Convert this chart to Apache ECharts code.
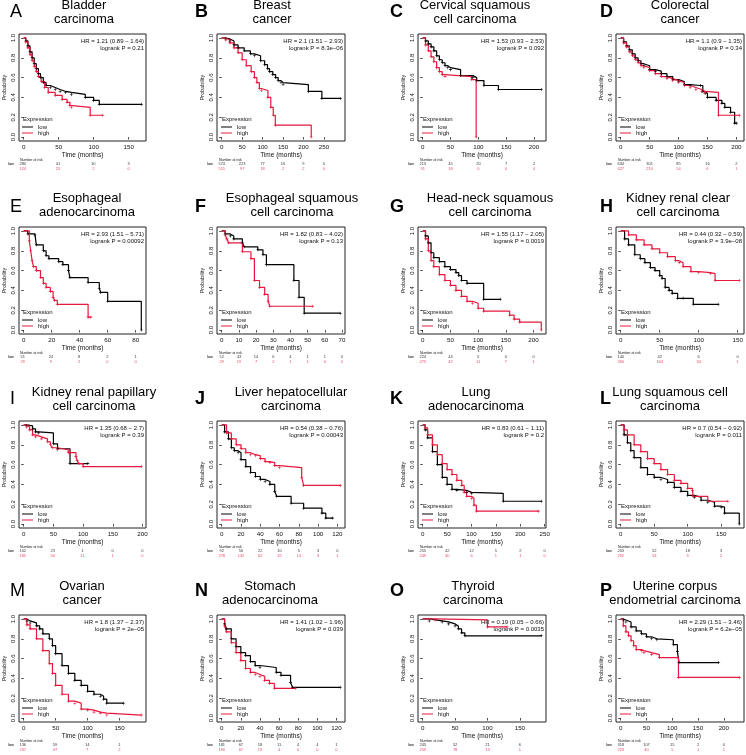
<!DOCTYPE html>
<html>
<head>
<meta charset="utf-8">
<script src="https://cdn.jsdelivr.net/npm/echarts@6.0.0/dist/echarts.min.js"></script>
<style>
html,body{margin:0;padding:0;background:#fff}
#chart{width:746px;height:755px}
</style>
</head>
<body>
<div id="chart"></div>
<script>
// 生存曲线数据 [时间(月), 生存概率]，每组 low / high
var A_low = [[0,1],[3,0.97],[6,0.92],[9,0.86],[12,0.80],[15,0.74],[18,0.69],[21,0.64],[24,0.60],[28,0.55],[32,0.52],[38,0.50],[45,0.48],[52,0.46],[60,0.45],[68,0.43],[88,0.40],[100,0.37],[108,0.33],[168,0.33]];
var A_high = [[0,1],[3,0.96],[6,0.90],[9,0.83],[12,0.77],[15,0.71],[18,0.66],[21,0.61],[25,0.56],[30,0.50],[35,0.45],[45,0.42],[55,0.38],[62,0.35],[66,0.32],[68,0.30],[95,0.22],[113,0.22]];
var B_low = [[0,1],[10,0.99],[20,0.97],[30,0.93],[40,0.90],[55,0.87],[70,0.84],[80,0.82],[95,0.77],[105,0.73],[112,0.69],[117,0.66],[125,0.63],[132,0.60],[138,0.57],[145,0.55],[150,0.53],[212,0.46],[245,0.39],[290,0.39]];
var B_high = [[0,1],[10,0.98],[20,0.95],[30,0.90],[40,0.85],[50,0.78],[60,0.72],[72,0.66],[80,0.60],[86,0.55],[92,0.49],[97,0.47],[113,0.40],[120,0.30],[126,0.22],[131,0.12],[219,0]];
var C_low = [[0,1],[5,0.97],[10,0.94],[15,0.91],[20,0.87],[25,0.82],[30,0.78],[35,0.75],[40,0.72],[45,0.70],[50,0.68],[68,0.62],[90,0.60],[97,0.57],[110,0.52],[136,0.48],[213,0.48]];
var C_high = [[0,1],[5,0.93],[10,0.87],[15,0.81],[20,0.76],[25,0.70],[30,0.66],[35,0.63],[40,0.61],[88,0.58],[96,0]];
var D_low = [[0,1],[5,0.96],[10,0.92],[15,0.88],[20,0.84],[25,0.80],[30,0.77],[35,0.74],[40,0.72],[50,0.68],[60,0.665],[70,0.64],[80,0.61],[90,0.58],[100,0.56],[110,0.53],[120,0.52],[138,0.52],[142,0.46],[146,0.44],[150,0.40],[165,0.37],[175,0.34],[180,0.30],[190,0.25],[197,0.14],[200,0.14]];
var D_high = [[0,1],[5,0.95],[10,0.91],[15,0.86],[20,0.82],[25,0.78],[30,0.75],[35,0.72],[40,0.70],[50,0.67],[60,0.64],[70,0.61],[80,0.59],[90,0.57],[100,0.55],[110,0.52],[120,0.50],[130,0.48],[140,0.46],[145,0.45],[169,0.22],[205,0.22]];
var E_low = [[0,1],[3,0.97],[8,0.96],[9,0.86],[14,0.80],[16,0.75],[18,0.72],[25,0.69],[28,0.66],[32,0.60],[33,0.53],[46,0.48],[54,0.42],[55,0.38],[60,0.29],[84,0]];
var E_high = [[0,1],[4,0.90],[5,0.80],[6,0.70],[7,0.64],[9,0.60],[12,0.53],[14,0.47],[16,0.43],[19,0.39],[21,0.33],[22,0.30],[24,0.26],[46,0.13],[48,0.13]];
var F_low = [[0,1],[2,0.97],[5,0.95],[7,0.92],[12,0.88],[13,0.84],[21,0.81],[24,0.76],[26,0.66],[42,0.50],[45,0.33],[48,0.17],[69,0.17]];
var F_high = [[0,1],[2,0.96],[3,0.92],[4,0.88],[12,0.79],[17,0.72],[19,0.50],[22,0.43],[25,0.36],[27,0.29],[28,0.24],[53,0.24]];
var G_low = [[0,1],[5,0.95],[10,0.88],[15,0.78],[20,0.73],[30,0.69],[40,0.64],[50,0.61],[60,0.58],[65,0.55],[70,0.50],[80,0.47],[110,0.31],[140,0.31]];
var G_high = [[0,1],[5,0.92],[10,0.80],[15,0.70],[20,0.64],[30,0.56],[40,0.50],[50,0.45],[60,0.40],[70,0.34],[80,0.29],[90,0.27],[100,0.22],[110,0.19],[157,0.15],[165,0.11],[175,0.08],[214,0]];
var H_low = [[0,1],[5,0.92],[10,0.86],[18,0.76],[25,0.72],[31,0.68],[38,0.63],[44,0.60],[50,0.55],[53,0.52],[57,0.43],[62,0.40],[66,0.37],[73,0.32],[80,0.32],[93,0.26],[125,0.26]];
var H_high = [[0,1],[10,0.96],[20,0.91],[30,0.86],[40,0.82],[50,0.78],[60,0.74],[70,0.70],[75,0.68],[80,0.64],[90,0.59],[100,0.58],[115,0.57],[121,0.50],[152,0.50]];
var I_low = [[0,1],[5,0.99],[15,0.96],[20,0.93],[25,0.92],[50,0.81],[57,0.76],[78,0.61],[108,0.61]];
var I_high = [[0,1],[5,0.98],[10,0.95],[15,0.90],[20,0.88],[30,0.86],[40,0.83],[45,0.80],[48,0.77],[57,0.75],[75,0.72],[88,0.68],[90,0.64],[93,0.61],[100,0.58],[198,0.58]];
var J_low = [[0,1],[3,0.93],[7,0.86],[10,0.77],[13,0.74],[17,0.72],[20,0.65],[25,0.58],[30,0.52],[35,0.48],[40,0.45],[45,0.43],[50,0.40],[55,0.33],[57,0.28],[72,0.21],[85,0.16],[104,0.11],[108,0.06],[115,0.06]];
var J_high = [[0,1],[5,0.92],[10,0.86],[15,0.80],[20,0.76],[25,0.72],[30,0.70],[35,0.69],[40,0.66],[45,0.63],[50,0.62],[55,0.59],[60,0.57],[83,0.47],[85,0.39],[123,0.39]];
var K_low = [[0,1],[5,0.95],[10,0.87],[20,0.73],[30,0.60],[40,0.47],[50,0.40],[60,0.35],[70,0.34],[90,0.32],[100,0.31],[165,0.23],[243,0.23]];
var K_high = [[0,1],[5,0.97],[10,0.90],[20,0.80],[30,0.70],[40,0.61],[50,0.55],[60,0.50],[70,0.44],[80,0.39],[85,0.32],[90,0.28],[100,0.26],[105,0.19],[110,0.13],[237,0.13]];
var L_low = [[0,1],[5,0.90],[10,0.82],[15,0.74],[20,0.67],[30,0.57],[40,0.50],[50,0.47],[60,0.45],[70,0.42],[80,0.37],[90,0.33],[100,0.29],[110,0.27],[120,0.24],[130,0.22],[140,0.18],[150,0.17],[155,0.11],[177,0]];
var L_high = [[0,1],[5,0.95],[10,0.90],[20,0.80],[30,0.73],[40,0.66],[50,0.61],[60,0.55],[70,0.50],[80,0.44],[90,0.41],[100,0.36],[107,0.34],[108,0.28],[130,0.23],[160,0.23]];
var M_low = [[0,1],[5,0.98],[10,0.96],[20,0.93],[25,0.90],[30,0.85],[40,0.80],[45,0.73],[50,0.65],[60,0.53],[70,0.45],[80,0.38],[90,0.33],[100,0.27],[110,0.24],[120,0.22],[125,0.19],[130,0.15],[156,0.15]];
var M_high = [[0,1],[5,0.94],[10,0.90],[20,0.80],[30,0.68],[40,0.55],[45,0.45],[50,0.33],[60,0.24],[70,0.17],[80,0.15],[90,0.09],[100,0.08],[110,0.06],[120,0.05],[130,0.03],[184,0.03]];
var N_low = [[0,1],[3,0.95],[5,0.90],[10,0.80],[15,0.72],[20,0.66],[25,0.63],[30,0.57],[35,0.53],[40,0.51],[57,0.46],[62,0.43],[72,0.36],[74,0.31],[124,0.31]];
var N_high = [[0,1],[3,0.93],[5,0.87],[10,0.76],[15,0.66],[20,0.58],[25,0.50],[30,0.46],[35,0.44],[40,0.42],[45,0.38],[50,0.35],[55,0.30],[77,0.30]];
var O_low = [[0,1],[10,0.98],[30,0.97],[40,0.95],[50,0.93],[55,0.90],[60,0.86],[65,0.83],[183,0.83]];
var O_high = [[0,1],[20,0.99],[100,0.92],[130,0.92]];
var P_low = [[0,1],[5,0.99],[10,0.97],[20,0.92],[30,0.88],[40,0.85],[50,0.82],[60,0.80],[70,0.79],[102,0.74],[110,0.67],[113,0.56],[190,0.56]];
var P_high = [[0,1],[5,0.93],[10,0.87],[15,0.83],[20,0.78],[25,0.73],[30,0.69],[40,0.68],[45,0.66],[60,0.64],[75,0.61],[112,0.41],[230,0.41]];

var lowCurves = [A_low,B_low,C_low,D_low,E_low,F_low,G_low,H_low,I_low,J_low,K_low,L_low,M_low,N_low,O_low,P_low];
var highCurves = [A_high,B_high,C_high,D_high,E_high,F_high,G_high,H_high,I_high,J_high,K_high,L_high,M_high,N_high,O_high,P_high];

// 横轴刻度 (也是 number at risk 的时间点)
var timeTicks = [
	[0,50,100,150],[0,50,100,150,200,250],[0,50,100,150,200],[0,50,100,150,200],
	[0,20,40,60,80],[0,10,20,30,40,50,60,70],[0,50,100,150,200],[0,50,100,150],
	[0,50,100,150,200],[0,20,40,60,80,100,120],[0,50,100,150,200,250],[0,50,100,150],
	[0,50,100,150],[0,20,40,60,80,100,120],[0,50,100,150],[0,50,100,150,200]
];
var probTicks = [0,0.2,0.4,0.6,0.8,1];

// number at risk
var riskLow = [
	[280,41,10,3],[574,223,77,16,9,5],[213,45,20,7,2],[634,301,85,16,2],
	[51,24,8,2,1],[52,43,14,6,4,1,1,0],[224,44,5,0,0],[140,42,6,0],
	[102,23,1,0,0],[92,50,22,10,5,3,0],[255,42,12,5,2,0],[203,52,18,3],
	[136,59,14,1],[181,67,18,11,4,4,1],[243,52,21,6],[318,107,15,2,0]
];
var riskHigh = [
	[124,25,2,0],[515,97,18,2,2,0],[91,18,0,0,0],[427,210,54,6,1],
	[29,9,2,0,0],[29,19,7,2,1,1,0,0],[275,42,11,7,1],[390,164,34,1],
	[185,50,11,1,0],[278,132,62,32,14,3,1],[249,30,6,1,1,0],[292,53,9,2],
	[237,47,7,2],[190,67,19,4,0,0,0],[259,78,13,1],[223,40,5,1,1]
];

var letters = ['A','B','C','D','E','F','G','H','I','J','K','L','M','N','O','P'];
var titles = [
	'Bladder\ncarcinoma','Breast\ncancer','Cervical squamous\ncell carcinoma','Colorectal\ncancer',
	'Esophageal\nadenocarcinoma','Esophageal squamous\ncell carcinoma','Head-neck squamous\ncell carcinoma','Kidney renal clear\ncell carcinoma',
	'Kidney renal papillary\ncell carcinoma','Liver hepatocellular\ncarcinoma','Lung\nadenocarcinoma','Lung squamous cell\ncarcinoma',
	'Ovarian\ncancer','Stomach\nadenocarcinoma','Thyroid\ncarcinoma','Uterine corpus\nendometrial carcinoma'
];
var hrTexts = [
	'HR = 1.21 (0.89 \u2212 1.64)','HR = 2.1 (1.51 \u2212 2.93)','HR = 1.53 (0.93 \u2212 2.53)','HR = 1.1 (0.9 \u2212 1.35)',
	'HR = 2.93 (1.51 \u2212 5.71)','HR = 1.82 (0.83 \u2212 4.02)','HR = 1.55 (1.17 \u2212 2.05)','HR = 0.44 (0.32 \u2212 0.59)',
	'HR = 1.35 (0.68 \u2212 2.7)','HR = 0.54 (0.38 \u2212 0.76)','HR = 0.83 (0.61 \u2212 1.11)','HR = 0.7 (0.54 \u2212 0.92)',
	'HR = 1.8 (1.37 \u2212 2.37)','HR = 1.41 (1.02 \u2212 1.96)','HR = 0.19 (0.05 \u2212 0.66)','HR = 2.29 (1.51 \u2212 3.46)'
];
var pTexts = [
	'logrank P = 0.21','logrank P = 8.3e\u221206','logrank P = 0.092','logrank P = 0.34',
	'logrank P = 0.00092','logrank P = 0.13','logrank P = 0.0019','logrank P = 3.9e\u221208',
	'logrank P = 0.39','logrank P = 0.00043','logrank P = 0.2','logrank P = 0.011',
	'logrank P = 2e\u221205','logrank P = 0.039','logrank P = 0.0035','logrank P = 6.2e\u221205'
];

(function(){
	var RED = '#e8173c';
	var FONT = '"Liberation Sans", Arial, sans-serif';
	var CROSS = 'path://M4,0H6V4H10V6H6V10H4V6H0V4H4Z';
	// 版面位置
	var colLeft = [18, 217, 418, 616];
	var boxW = 128;
	var rowTop = [34, 227, 421, 615];
	var boxH = 107;
	var letterX = [10, 195, 390, 600];
	var letterDy = [-21.5, -20, -22, -24];
	//标题相对图框中心的偏移
	var titleShift = [2, -9, -7, 0, 5, 11, 8, -2, 12, 10, -6, -10, 0, -11, -9, -5];

	var grids = [], xAxes = [], yAxes = [], series = [], legends = [], graphics = [];

	function txt(x, y, text, font, color, align, valign, lh){
		return {
			type : 'text', x : x, y : y, silent : true,
			style : {text : text, font : font, fill : color, align : align, verticalAlign : valign,
				textAlign : align, textVerticalAlign : valign, lineHeight : lh}
		};
	}

	for (var i = 0; i < 16; i++) {
		var c = i % 4, r = Math.floor(i / 4);
		var L = colLeft[c], T = rowTop[r];
		var low = lowCurves[i], high = highCurves[i];
		var tMax = Math.max(low[low.length - 1][0], high[high.length - 1][0]);
		var xmin = -0.04 * tMax, xmax = 1.04 * tMax;
		var ticks = timeTicks[i];
		var g = 2 * i;

		//生存曲线网格
		grids.push({left : L, top : T, width : boxW, height : boxH, show : true,
			borderColor : '#222', borderWidth : 1, backgroundColor : '#fff'});
		//number at risk 网格
		grids.push({left : L, top : T + boxH + 21, width : boxW, height : 9});

		xAxes.push({
			gridIndex : g, type : 'value', min : xmin, max : xmax,
			name : 'Time (months)', nameLocation : 'middle', nameGap : 11,
			nameTextStyle : {fontSize : 6.5, color : '#111', fontFamily : FONT},
			axisLine : {show : false},
			axisTick : {customValues : ticks, length : 2.5, lineStyle : {color : '#222', width : 0.8}},
			axisLabel : {customValues : ticks, margin : 3, fontSize : 6.2, color : '#111', fontFamily : FONT},
			splitLine : {show : false}
		});
		xAxes.push({gridIndex : g + 1, type : 'value', min : xmin, max : xmax, show : false});

		yAxes.push({
			gridIndex : g, type : 'value', min : -0.04, max : 1.04,
			name : 'Probability', nameLocation : 'middle', nameGap : 12, nameRotate : 90,
			nameTextStyle : {fontSize : 5.5, color : '#111', fontFamily : FONT},
			axisLine : {show : false},
			axisTick : {customValues : probTicks, length : 2.5, lineStyle : {color : '#222', width : 0.8}},
			axisLabel : {customValues : probTicks, rotate : 90, margin : 3, fontSize : 6, color : '#111', fontFamily : FONT,
				formatter : function(v){ return v.toFixed(1); }},
			splitLine : {show : false}
		});
		yAxes.push({
			gridIndex : g + 1, type : 'category', data : ['low', 'high'], inverse : true,
			axisLine : {show : false}, axisTick : {show : false},
			axisLabel : {fontSize : 4, margin : 4, fontFamily : FONT,
				color : function(v){ return v === 'low' ? '#000' : RED; }}
		});

		[[low, 'low', '#000'], [high, 'high', RED]].forEach(function(s){
			series.push({
				type : 'line', name : s[1], xAxisIndex : g, yAxisIndex : g,
				data : s[0], step : 'end', color : s[2],
				lineStyle : {width : 1.2, color : s[2]},
				itemStyle : {color : s[2]},
				symbol : function(v, p){ return p.dataIndex === 0 ? 'none' : CROSS; },
				symbolSize : 3, animation : false, silent : true
			});
		});

		[[riskLow[i], 'low', '#000'], [riskHigh[i], 'high', RED]].forEach(function(s){
			series.push({
				type : 'scatter', name : 'risk-' + s[1], xAxisIndex : g + 1, yAxisIndex : g + 1,
				data : ticks.map(function(t, k){ return [t, s[1], s[0][k]]; }),
				symbolSize : 1, itemStyle : {color : 'transparent'}, silent : true, animation : false,
				label : {show : true, position : 'inside', fontSize : 4, color : s[2], fontFamily : FONT,
					formatter : function(p){ return String(p.value[2]); }}
			});
		});

		legends.push({
			left : L + 4, top : T + boxH - 17, orient : 'vertical', data : ['low', 'high'],
			icon : 'rect', itemWidth : 11, itemHeight : 1, itemGap : 0, padding : 0, selectedMode : false,
			textStyle : {fontSize : 6, lineHeight : 6, color : '#111', fontFamily : FONT}
		});

		//标题、字母、HR 文本
		graphics.push(txt(L + boxW / 2 + titleShift[i], T - 21.5, titles[i], '13px ' + FONT, '#000', 'center', 'middle', 14));
		graphics.push(txt(letterX[c], T + letterDy[r], letters[i], (c === 0 ? '' : 'bold ') + '18px ' + FONT, '#000', 'left', 'middle'));
		graphics.push(txt(L + boxW - 2, T + 7, hrTexts[i], '6px ' + FONT, '#111', 'right', 'middle'));
		graphics.push(txt(L + boxW - 2, T + 14, pTexts[i], '6px ' + FONT, '#111', 'right', 'middle'));
		graphics.push(txt(L + 5, T + boxH - 22, 'Expression', '6px ' + FONT, '#111', 'left', 'middle'));
		graphics.push(txt(L + 2, T + boxH + 19, 'Number at risk', '3.5px ' + FONT, '#111', 'left', 'middle'));
	}

	var myChart = echarts.init(document.getElementById('chart'), null, {renderer : 'canvas'});
	myChart.setOption({
		animation : false,
		backgroundColor : '#fff',
		grid : grids,
		xAxis : xAxes,
		yAxis : yAxes,
		legend : legends,
		series : series,
		graphic : {elements : graphics}
	});
})();
</script>
</body>
</html>
